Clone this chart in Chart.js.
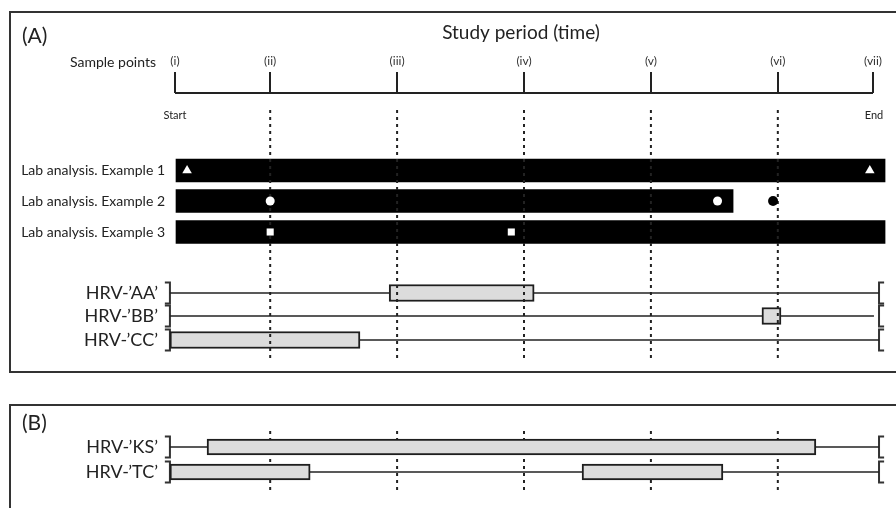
<!DOCTYPE html>
<html>
<head>
<meta charset="utf-8">
<script src="https://cdn.jsdelivr.net/npm/chart.js@4.4.1/dist/chart.umd.min.js"></script>
<style>
  html, body { margin: 0; padding: 0; background: #fff; }
  #wrap { width: 896px; height: 508px; }
</style>
</head>
<body>
<div id="wrap"><canvas id="chart"></canvas></div>
<script>
// study time, in arbitrary units; sample points sit on it
var samplePoints = [0, 3, 7, 11, 15, 19, 22];
var sampleLabels = ['(i)', '(ii)', '(iii)', '(iv)', '(v)', '(vi)', '(vii)'];

// lab analysis rows (bar runs from 0 to labEnd)
var labNames = ['Lab analysis. Example 1', 'Lab analysis. Example 2', 'Lab analysis. Example 3'];
var labEnd = [22.38, 17.59, 22.38];
var lab1Triangles = [0.38, 21.9];
var lab2Circles = [3, 17.1];
var lab2Dots = [18.85];
var lab3Squares = [3, 10.6];

// HRV detection periods, panel A
var hrvNamesA = ['HRV-\u2019AA\u2019', 'HRV-\u2019BB\u2019', 'HRV-\u2019CC\u2019'];
var hrvBoxesA = [[[6.75, 11.32]], [[18.5, 19.1]], [[-0.16, 5.83]]];
var hrvLineEndA = [22.19, 22.03, 22.19];

// HRV detection periods, panel B
var hrvNamesB = ['HRV-\u2019KS\u2019', 'HRV-\u2019TC\u2019'];
var hrvBoxesB = [[[1.01, 20.2]], [[-0.16, 4.26], [12.83, 17.27]]];
var hrvLineEndB = [22.19, 22.19];

var trackStart = -0.16;
var trackEnd = 22.19;
var bracketArm = 0.16;

// layout (vertical positions of rows, in canvas pixels)
var axisY = 93;
var labRows = [170.5, 201, 232];
var hrvRowsA = [293, 316, 340];
var hrvRowsB = [447, 472];
var FONT = 'Lato, "Open Sans", sans-serif';
var INK = '#222';

var datasets = [];

function segment(x1, y1, x2, y2, extra) {
    var ds = {
        type: 'line',
        data: [{x: x1, y: y1}, {x: x2, y: y2}],
        borderColor: INK,
        borderWidth: 1.5,
        pointRadius: 0,
        fill: false
    };
    for (var k in extra) ds[k] = extra[k];
    datasets.push(ds);
}

function markers(xs, y, style, r, color) {
    datasets.push({
        type: 'line',
        showLine: false,
        data: xs.map(function(x) { return {x: x, y: y}; }),
        pointStyle: style,
        pointRadius: r,
        pointBackgroundColor: color,
        pointBorderWidth: 0,
        order: 5
    });
}

function track(rows, ends) {
    rows.forEach(function(y, i) {
        segment(trackStart, y, ends[i], y, {order: 60});
        // brackets at both ends
        datasets.push({
            type: 'line', order: 60, borderColor: '#333', borderWidth: 2, pointRadius: 0,
            borderJoinStyle: 'miter',
            data: [{x: trackStart - bracketArm, y: y - 10.5}, {x: trackStart, y: y - 10.5},
                   {x: trackStart, y: y + 10.5}, {x: trackStart - bracketArm, y: y + 10.5}]
        });
        datasets.push({
            type: 'line', order: 60, borderColor: '#333', borderWidth: 2, pointRadius: 0,
            borderJoinStyle: 'miter',
            data: [{x: trackEnd + bracketArm, y: y - 10.5}, {x: trackEnd, y: y - 10.5},
                   {x: trackEnd, y: y + 10.5}, {x: trackEnd + bracketArm, y: y + 10.5}]
        });
    });
}

function boxes(rows, list, thick) {
    var data = [];
    rows.forEach(function(y, i) {
        list[i].forEach(function(b) { data.push({y: y, x: b}); });
    });
    datasets.push({
        type: 'bar', indexAxis: 'y', grouped: false, barThickness: thick,
        data: data,
        backgroundColor: '#dcdcdc', borderColor: '#1e1e1e', borderWidth: 2,
        borderSkipped: false, order: 30
    });
}

// sample axis line
segment(samplePoints[0], axisY, samplePoints[samplePoints.length - 1], axisY,
    {borderWidth: 2, clip: false, order: 5});

// dotted guides at inner sample points
samplePoints.slice(1, -1).forEach(function(s) {
    segment(s, 110, s, 360, {borderDash: [3, 4], borderWidth: 2, order: 20});
    segment(s, 431, s, 491, {borderDash: [3, 4], borderWidth: 2, order: 55});
});

// lab analysis bars
datasets.push({
    type: 'bar', indexAxis: 'y', grouped: false, barThickness: 23,
    data: labRows.map(function(y, i) { return {y: y, x: [0, labEnd[i]]}; }),
    backgroundColor: '#000', borderWidth: 0, order: 40
});
markers(lab1Triangles, labRows[0], 'triangle', 5.5, '#fff');
markers(lab2Circles, labRows[1], 'circle', 4.5, '#fff');
markers(lab2Dots, labRows[1], 'circle', 5, '#000');
markers(lab3Squares, labRows[2], 'rect', 5, '#fff');

track(hrvRowsA, hrvLineEndA);
track(hrvRowsB, hrvLineEndB);
boxes(hrvRowsA, hrvBoxesA, 17);
boxes(hrvRowsB, hrvBoxesB, 16);

// panel frames and free text
var decor = {
    id: 'decor',
    beforeDatasetsDraw: function(chart) {
        var ctx = chart.ctx;
        ctx.save();
        ctx.strokeStyle = '#333';
        ctx.lineWidth = 2;
        ctx.strokeRect(10, 12, 900, 360);
        ctx.strokeRect(10, 405, 900, 200);
        ctx.restore();
    },
    afterDraw: function(chart) {
        var ctx = chart.ctx;
        function text(t, x, y, size, align) {
            ctx.font = size + 'px ' + FONT;
            ctx.textAlign = align;
            ctx.textBaseline = 'middle';
            ctx.fillText(t, x, y);
        }
        ctx.save();
        ctx.fillStyle = INK;
        text('(A)', 22, 36, 21, 'left');
        text('(B)', 22, 423, 21, 'left');
        text('Study period (time)', 521, 33, 19, 'center');
        text('Sample points', 156, 62, 14, 'right');
        text('Start', 175, 115, 11, 'center');
        text('End', 874, 115, 11, 'center');
        labNames.forEach(function(n, i) { text(n, 165, labRows[i], 14, 'right'); });
        hrvNamesA.forEach(function(n, i) { text(n, 158, hrvRowsA[i], 18, 'right'); });
        hrvNamesB.forEach(function(n, i) { text(n, 158, hrvRowsB[i], 18, 'right'); });
        ctx.restore();
    }
};

new Chart(document.getElementById('chart'), {
    type: 'line',
    data: {datasets: datasets},
    plugins: [decor],
    options: {
        responsive: true,
        maintainAspectRatio: false,
        animation: false,
        layout: {padding: 0, autoPadding: false},
        plugins: {legend: {display: false}, tooltip: {enabled: false}},
        elements: {line: {tension: 0}},
        scales: {
            x: {
                type: 'linear', position: 'top', bounds: 'data', offset: false,
                min: -5.516, max: 22.725,
                afterBuildTicks: function(s) {
                    s.ticks = samplePoints.map(function(v) { return {value: v}; });
                },
                afterFit: function(s) { s.height = axisY; },
                border: {display: false},
                grid: {drawOnChartArea: false, offset: false, tickLength: 21, tickWidth: 2, tickColor: INK, lineWidth: 2},
                ticks: {
                    autoSkip: false, maxRotation: 0, padding: 4, color: '#333',
                    font: {family: FONT, size: 12},
                    callback: function(v, i) { return sampleLabels[i]; }
                }
            },
            y: {type: 'linear', display: false, offset: false, grid: {offset: false},
                min: axisY, max: 508, reverse: true}
        }
    }
});
</script>
</body>
</html>
